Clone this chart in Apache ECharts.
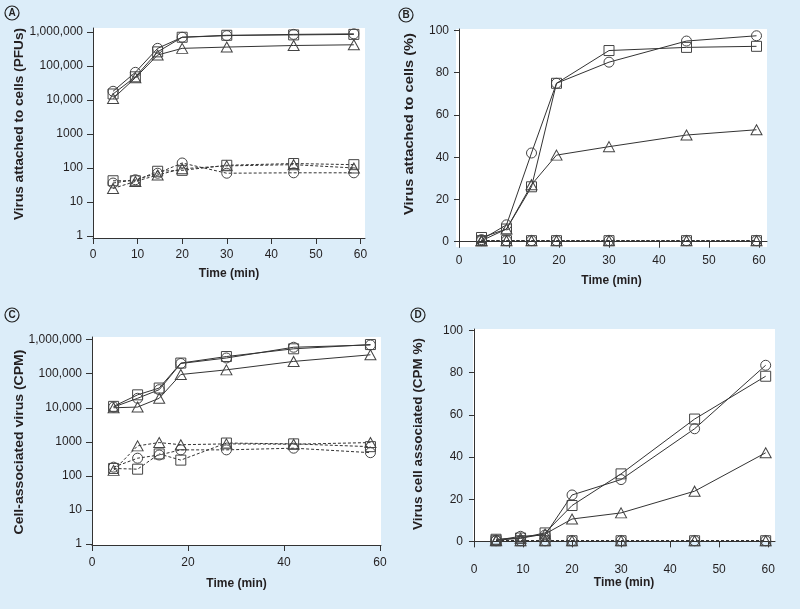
<!DOCTYPE html>
<html><head><meta charset="utf-8">
<script src="https://cdn.jsdelivr.net/npm/echarts@6/dist/echarts.min.js"></script>
<style>html,body{margin:0;padding:0;background:#dcedf9}#c{width:800px;height:609px}</style>
</head><body><div id="c"></div><script>
// ---- Panel A: virus attached to cells (PFUs), log scale ----
const timesA = [4.5, 9.5, 14.5, 20, 30, 45, 58.5];
const aSolidCircle = [18000, 65000, 330000, 700000, 780000, 850000, 880000];
const aSolidSquare = [15000, 48000, 260000, 700000, 800000, 820000, 850000];
const aSolidTriangle = [11000, 45000, 210000, 330000, 360000, 400000, 420000];
const aDashedCircle = [36, 45, 70, 140, 70, 72, 72];
const aDashedSquare = [42, 42, 80, 85, 120, 135, 125];
const aDashedTriangle = [25, 40, 62, 95, 115, 125, 100];
// ---- Panel B: virus attached to cells (%) ----
const timesB = [4.5, 9.5, 14.5, 19.5, 30, 45.5, 59.5];
const bSolidCircle = [1, 8, 42, 75, 85, 95, 97.5];
const bSolidSquare = [2, 6, 26, 75, 90.5, 92, 92.5];
const bSolidTriangle = [0.5, 6, 27, 41, 45, 50.5, 53];
const bDashedCircle = [0.5, 0.5, 0.5, 0.5, 0.5, 0.5, 0.5];
const bDashedSquare = [0.5, 0.5, 0.5, 0.5, 0.5, 0.5, 0.5];
const bDashedTriangle = [0.5, 0.5, 0.5, 0.5, 0.5, 0.5, 0.5];
// ---- Panel C: cell-associated virus (CPM), log scale ----
const timesC = [4.5, 9.5, 14, 18.5, 28, 42, 58];
const cSolidCircle = [10500, 19000, 34000, 200000, 290000, 600000, 700000];
const cSolidSquare = [11000, 24000, 38000, 206000, 320000, 540000, 720000];
const cSolidTriangle = [10000, 10500, 19000, 95000, 130000, 230000, 360000];
const cDashedCircle = [180, 330, 410, 580, 580, 650, 480];
const cDashedSquare = [165, 157, 440, 290, 920, 870, 720];
const cDashedTriangle = [145, 760, 950, 820, 870, 850, 950];
// ---- Panel D: virus cell associated (CPM %) ----
const timesD = [4.5, 9.5, 14.5, 20, 30, 45, 59.5];
const dSolidCircle = [0.5, 2.4, 3, 22, 29.3, 53.4, 83.5];
const dSolidSquare = [1, 1.6, 4, 17, 32, 58, 78.3];
const dSolidTriangle = [0.5, 1.5, 3.5, 10.6, 13.5, 23.8, 42];
const dDashedCircle = [0.3, 0.3, 0.3, 0.3, 0.3, 0.3, 0.3];
const dDashedSquare = [0.3, 0.3, 0.3, 0.3, 0.3, 0.3, 0.3];
const dDashedTriangle = [0.3, 0.3, 0.3, 0.3, 0.3, 0.3, 0.3];
// ---- tick labels & axis titles ----
const logTicks = [1, 10, 100, 1000, 10000, 100000, 1000000];
const pctTicks = [0, 20, 40, 60, 80, 100];
const timeTicks10 = [0, 10, 20, 30, 40, 50, 60];
const timeTicks20 = [0, 20, 40, 60];
const yTitles = ['Virus attached to cells (PFUs)', 'Virus attached to cells (%)',
                 'Cell-associated virus (CPM)', 'Virus cell associated (CPM %)'];
const xTitle = 'Time (min)';

const FONT = "'Liberation Sans', Arial, Helvetica, sans-serif";
const INK = '#333';
const TXT = '#231f20';

function pair(t, v) { return t.map((x, i) => [x, v[i]]); }
function logFmt(v) {
  const r = Math.round(v);
  return r >= 10000 ? r.toLocaleString('en-US') : String(r);
}
function mk(idx, times, vals, shape, dashed) {
  const sym = shape === 'circle' ? 'circle' : shape === 'square' ? 'rect' : 'triangle';
  const size = shape === 'triangle' ? [11, 10] : 10;
  return {
    type: 'line', xAxisIndex: idx, yAxisIndex: idx,
    data: pair(times, vals), symbol: sym, symbolSize: size,
    showSymbol: true, animation: false, silent: true,
    lineStyle: { color: INK, width: 1, type: dashed ? [3, 2] : 'solid' },
    itemStyle: { color: 'transparent', borderColor: '#444', borderWidth: 1 }
  };
}
const axisCommon = {
  axisLine: { show: true, lineStyle: { color: INK, width: 1 } },
  splitLine: { show: false },
  nameTextStyle: { fontFamily: FONT, fontWeight: 'bold', fontSize: 12, color: TXT }
};
function xAx(idx, min, max, ticks, margin, gap) {
  return Object.assign({}, axisCommon, {
    type: 'value', gridIndex: idx, min, max,
    name: xTitle, nameLocation: 'middle', nameGap: gap,
    axisTick: { show: true, inside: false, length: 6, lineStyle: { color: INK }, customValues: ticks },
    axisLabel: { fontFamily: FONT, fontSize: 12, color: TXT, margin, customValues: ticks }
  });
}
function yLog(idx, min, max) {
  return Object.assign({}, axisCommon, {
    type: 'log', logBase: 10, gridIndex: idx, min, max,
    axisTick: { show: true, inside: false, length: 6, lineStyle: { color: INK }, customValues: logTicks },
    axisLabel: { fontFamily: FONT, fontSize: 12, color: TXT, margin: 10, customValues: logTicks, formatter: logFmt }
  });
}
function yLin(idx, min, max, margin) {
  return Object.assign({}, axisCommon, {
    type: 'value', gridIndex: idx, min, max,
    axisTick: { show: true, inside: false, length: 5, lineStyle: { color: INK }, customValues: pctTicks },
    axisLabel: { fontFamily: FONT, fontSize: 12, color: TXT, margin, customValues: pctTicks }
  });
}
function badge(letter, x, y) {
  return {
    type: 'group', x, y, children: [
      { type: 'circle', shape: { cx: 0, cy: 0, r: 7 }, style: { fill: 'none', stroke: '#222', lineWidth: 1.2 } },
      { type: 'text', x: 0, y: 0, style: { text: letter, font: 'bold 10px ' + FONT, fill: '#222', align: 'center', verticalAlign: 'middle' } }
    ]
  };
}
// vertical axis titles (wide bold lettering in the original)
const mctx = document.createElement('canvas').getContext('2d');
const titleFont = 'bold 12px ' + FONT;
mctx.font = titleFont;
function yTitle(text, cx, cy, len) {
  const w = mctx.measureText(text).width || len;
  return {
    type: 'text', x: cx, y: cy, rotation: Math.PI / 2, scaleX: len / w, scaleY: 1,
    style: { text, font: titleFont, fill: TXT, align: 'center', verticalAlign: 'middle' }
  };
}

const chart = echarts.init(document.getElementById('c'), null, { renderer: 'canvas' });
const gridStyle = { show: true, backgroundColor: '#fff', borderWidth: 0, containLabel: false };
chart.setOption({
  backgroundColor: '#dcedf9',
  animation: false,
  grid: [
    Object.assign({ left: 93, top: 28, width: 272, height: 210 }, gridStyle),
    Object.assign({ left: 456, top: 29, width: 311, height: 218 }, gridStyle),
    Object.assign({ left: 92, top: 337, width: 289, height: 208 }, gridStyle),
    Object.assign({ left: 473, top: 329, width: 302, height: 213 }, gridStyle)
  ],
  xAxis: [
    xAx(0, 0, 61, timeTicks10, 11, 30),
    xAx(1, -0.6, 61.6, timeTicks10, 8, 28),
    xAx(2, 0, 60.2, timeTicks20, 12, 33),
    xAx(3, -0.2, 61.4, timeTicks10, 22, 34)
  ],
  yAxis: [
    yLog(0, 0.87, 1310000),
    yLin(1, -2.5, 100.7, 7),
    yLog(2, 0.93, 1200000),
    yLin(3, -0.3, 100.7, 10)
  ],
  series: [
    mk(0, timesA, aSolidCircle, 'circle', false),
    mk(0, timesA, aSolidSquare, 'square', false),
    mk(0, timesA, aSolidTriangle, 'triangle', false),
    mk(0, timesA, aDashedCircle, 'circle', true),
    mk(0, timesA, aDashedSquare, 'square', true),
    mk(0, timesA, aDashedTriangle, 'triangle', true),
    mk(1, timesB, bSolidCircle, 'circle', false),
    mk(1, timesB, bSolidSquare, 'square', false),
    mk(1, timesB, bSolidTriangle, 'triangle', false),
    mk(1, timesB, bDashedCircle, 'circle', true),
    mk(1, timesB, bDashedSquare, 'square', true),
    mk(1, timesB, bDashedTriangle, 'triangle', true),
    mk(2, timesC, cSolidCircle, 'circle', false),
    mk(2, timesC, cSolidSquare, 'square', false),
    mk(2, timesC, cSolidTriangle, 'triangle', false),
    mk(2, timesC, cDashedCircle, 'circle', true),
    mk(2, timesC, cDashedSquare, 'square', true),
    mk(2, timesC, cDashedTriangle, 'triangle', true),
    mk(3, timesD, dSolidCircle, 'circle', false),
    mk(3, timesD, dSolidSquare, 'square', false),
    mk(3, timesD, dSolidTriangle, 'triangle', false),
    mk(3, timesD, dDashedCircle, 'circle', true),
    mk(3, timesD, dDashedSquare, 'square', true),
    mk(3, timesD, dDashedTriangle, 'triangle', true)
  ],
  graphic: [
    badge('A', 12, 13), badge('B', 406, 15), badge('C', 12, 315), badge('D', 418, 315),
    yTitle(yTitles[0], 20, 124, 192),
    yTitle(yTitles[1], 410, 124, 182),
    yTitle(yTitles[2], 20, 442, 185),
    yTitle(yTitles[3], 419, 434, 192)
  ]
});
</script></body></html>
